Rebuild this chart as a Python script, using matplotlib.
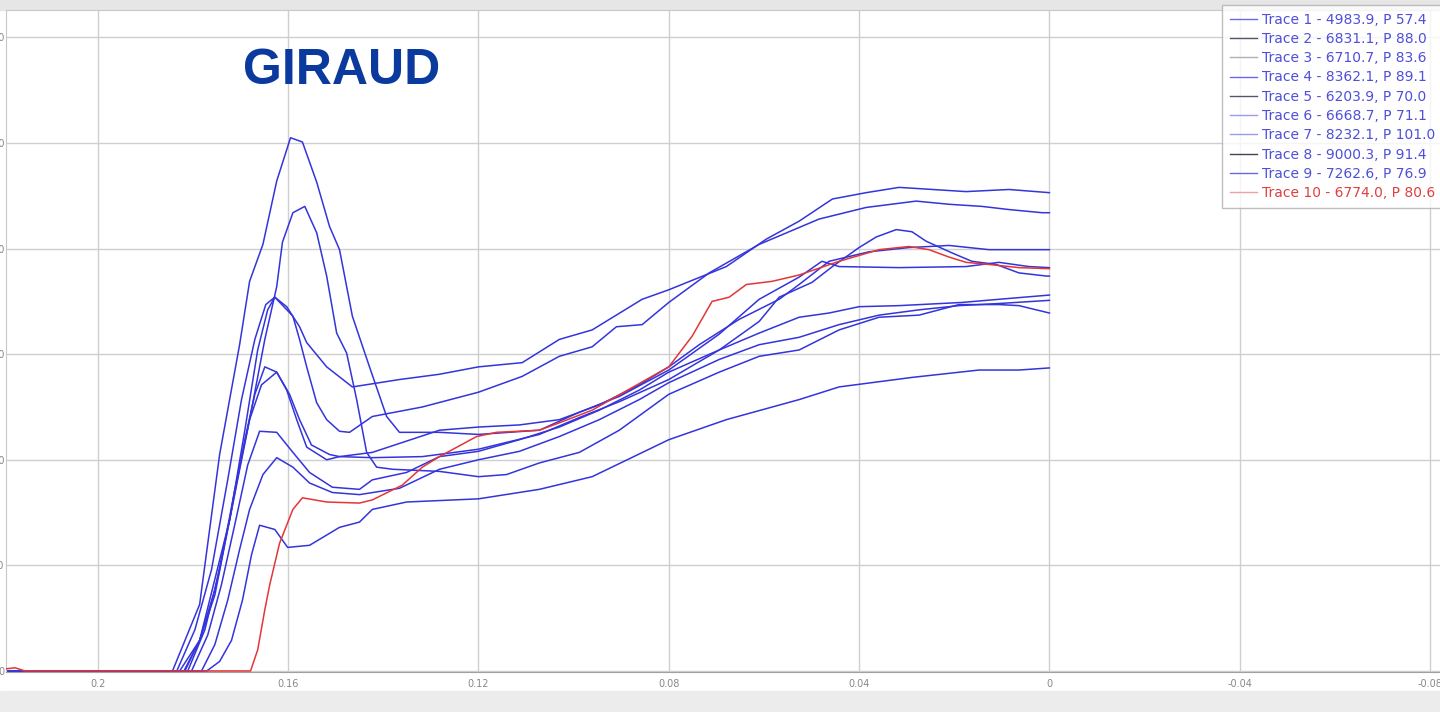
import matplotlib
matplotlib.use('Agg')
import matplotlib.pyplot as plt
from matplotlib.lines import Line2D
from matplotlib.patches import Rectangle

# traces (x = position, y = force, grid step 100)
trace1_x = [0.2193, 0.1771, 0.1744, 0.1719, 0.1696, 0.1677, 0.1660, 0.1628, 0.1601, 0.1555, 0.1492, 0.1450, 0.1423,
            0.1351, 0.12, 0.1072, 0.0961, 0.08, 0.0679, 0.0526, 0.0442, 0.0289, 0.0148, 0.0064, 0.0]
trace1_y = [0, 0, 9, 29, 67, 110, 138, 134, 117, 119, 136, 141, 153, 160, 163, 172, 184, 219, 238, 257, 269, 278,
            285, 285, 287]

trace2_x = [0.2193, 0.1803, 0.1769, 0.1740, 0.1710, 0.1685, 0.1660, 0.1624, 0.1590, 0.1555, 0.1507, 0.1450, 0.1423,
            0.1351, 0.1282, 0.12, 0.1114, 0.1030, 0.0946, 0.0862, 0.08, 0.0694, 0.0610, 0.0526, 0.0463, 0.04,
            0.0316, 0.0184, 0.0106, 0.0]
trace2_y = [0, 0, 34, 82, 143, 195, 227, 226, 207, 188, 174, 172, 181, 188, 203, 208, 219, 231, 247, 266, 283, 304,
            320, 335, 339, 345, 346, 349, 352, 356]

trace3_x = [0.2193, 0.1782, 0.1754, 0.1727, 0.1702, 0.1681, 0.1653, 0.1624, 0.1590, 0.1555, 0.1507, 0.1450, 0.1366,
            0.1282, 0.12, 0.1114, 0.1030, 0.0946, 0.0862, 0.08, 0.0694, 0.0610, 0.0526, 0.0442, 0.0358, 0.0274,
            0.0190, 0.0106, 0.0]
trace3_y = [0, 0, 25, 67, 115, 153, 186, 202, 193, 178, 169, 167, 173, 191, 200, 208, 222, 238, 257, 273, 295, 309,
            316, 328, 337, 342, 346, 348, 351]

trace4_x = [0.2193, 0.1834, 0.1796, 0.1761, 0.1727, 0.1698, 0.1670, 0.1647, 0.1628, 0.1590, 0.1576, 0.1561, 0.1540,
            0.1519, 0.1492, 0.1471, 0.1423, 0.1318, 0.12, 0.1108, 0.1030, 0.0961, 0.0910, 0.0856, 0.08, 0.0715,
            0.0610, 0.0484, 0.0385, 0.0280, 0.0211, 0.0142, 0.0085, 0.0015, 0.0]
trace4_y = [0, 0, 39, 96, 181, 257, 314, 347, 354, 336, 314, 288, 254, 238, 227, 226, 241, 250, 264, 279, 298, 307,
            326, 328, 349, 377, 404, 428, 439, 445, 442, 440, 437, 434, 434]

trace5_x = [0.2193, 0.1828, 0.1786, 0.1723, 0.1681, 0.1649, 0.1624, 0.1612, 0.1590, 0.1565, 0.1540, 0.1519, 0.1498,
            0.1477, 0.1456, 0.1435, 0.1414, 0.1380, 0.1282, 0.12, 0.1141, 0.1072, 0.0988, 0.0904, 0.08, 0.0694,
            0.0610, 0.0526, 0.0442, 0.0358, 0.0274, 0.0190, 0.0106, 0.0064, 0.0]
trace5_y = [0, 0, 29, 143, 238, 314, 364, 406, 434, 440, 415, 374, 320, 301, 257, 207, 193, 191, 189, 184, 186, 197,
            207, 228, 262, 283, 298, 304, 323, 335, 337, 347, 347, 346, 339]

trace6_x = [0.2193, 0.1811, 0.1775, 0.1744, 0.1712, 0.1681, 0.1656, 0.1624, 0.1597, 0.1576, 0.1551, 0.1513, 0.1492,
            0.1423, 0.1318, 0.12, 0.1072, 0.0988, 0.0904, 0.08, 0.0694, 0.0610, 0.0568, 0.0499, 0.0456, 0.04,
            0.0364, 0.0322, 0.0289, 0.0259, 0.0205, 0.0163, 0.0112, 0.0064, 0.0006, 0.0]
trace6_y = [0, 0, 39, 96, 172, 238, 271, 283, 262, 238, 214, 205, 203, 202, 203, 210, 224, 240, 255, 276, 304, 331,
            354, 368, 383, 401, 411, 418, 416, 407, 396, 388, 385, 377, 374, 374]

trace7_x = [0.2193, 0.1843, 0.1786, 0.1744, 0.1702, 0.1681, 0.1653, 0.1624, 0.1595, 0.1570, 0.1540, 0.1513, 0.1492,
            0.1465, 0.1429, 0.1393, 0.1366, 0.1282, 0.12, 0.1072, 0.0988, 0.0904, 0.08, 0.0694, 0.0610, 0.0526,
            0.0478, 0.0442, 0.0316, 0.0175, 0.0106, 0.0043, 0.0]
trace7_y = [0, 0, 63, 205, 309, 369, 404, 464, 505, 501, 463, 421, 399, 336, 288, 241, 226, 226, 224, 228, 245, 260,
            285, 319, 352, 373, 388, 383, 382, 383, 387, 383, 382]

trace8_x = [0.2193, 0.1819, 0.1786, 0.1754, 0.1723, 0.1691, 0.1664, 0.1643, 0.1628, 0.1603, 0.1576, 0.1561, 0.1519,
            0.1465, 0.1366, 0.1282, 0.12, 0.1108, 0.1030, 0.0961, 0.0856, 0.08, 0.0679, 0.0595, 0.0526, 0.0456,
            0.0385, 0.0316, 0.0175, 0.0085, 0.0]
trace8_y = [0, 0, 29, 77, 143, 228, 304, 342, 354, 345, 326, 311, 288, 269, 276, 281, 288, 292, 314, 323, 352, 361,
            383, 409, 426, 447, 453, 458, 454, 456, 453]

trace9_x = [0.2193, 0.1817, 0.1786, 0.1754, 0.1723, 0.1691, 0.1670, 0.1649, 0.1624, 0.1603, 0.1582, 0.1561, 0.1519,
            0.1492, 0.1423, 0.1282, 0.12, 0.1114, 0.1030, 0.0946, 0.0862, 0.08, 0.0736, 0.0652, 0.0568, 0.0526,
            0.0463, 0.0379, 0.0295, 0.0211, 0.0127, 0.0]
trace9_y = [0, 0, 29, 72, 143, 219, 262, 288, 283, 266, 238, 212, 200, 203, 207, 228, 231, 233, 238, 252, 271, 288,
            309, 333, 352, 366, 388, 397, 401, 403, 399, 399]

trace10_x = [0.2193, 0.2174, 0.2153, 0.1679, 0.1664, 0.1649, 0.1639, 0.1618, 0.1590, 0.1570, 0.1519, 0.1450, 0.1423,
             0.1360, 0.1318, 0.1282, 0.1204, 0.1162, 0.1072, 0.1030, 0.0961, 0.08, 0.0751, 0.0709, 0.0673, 0.0637,
             0.0583, 0.0526, 0.0442, 0.0358, 0.0295, 0.0253, 0.0211, 0.0175, 0.0127, 0.0064, 0.0]
trace10_y = [2, 3, 0, 0, 20, 58, 81, 121, 153, 164, 160, 159, 162, 176, 193, 203, 222, 226, 228, 235, 247, 288, 317,
             350, 354, 366, 369, 375, 388, 399, 402, 399, 392, 387, 385, 382, 381]

labels = ['Trace 1 - 4983.9, P 57.4', 'Trace 2 - 6831.1, P 88.0', 'Trace 3 - 6710.7, P 83.6',
          'Trace 4 - 8362.1, P 89.1', 'Trace 5 - 6203.9, P 70.0', 'Trace 6 - 6668.7, P 71.1',
          'Trace 7 - 8232.1, P 101.0', 'Trace 8 - 9000.3, P 91.4', 'Trace 9 - 7262.6, P 76.9',
          'Trace 10 - 6774.0, P 80.6']
legend_colors = ['#6a6ae8', '#555566', '#b0b0b8', '#6a6ae8', '#55556e', '#9a9aee', '#9a9aee', '#444450',
                 '#6a6ae0', '#f0a0a0']

xs = [trace1_x, trace2_x, trace3_x, trace4_x, trace5_x, trace6_x, trace7_x, trace8_x, trace9_x, trace10_x]
ys = [trace1_y, trace2_y, trace3_y, trace4_y, trace5_y, trace6_y, trace7_y, trace8_y, trace9_y, trace10_y]

xticks = [0.2, 0.16, 0.12, 0.08, 0.04, 0, -0.04, -0.08]
xtick_labels = ['0.2', '0.16', '0.12', '0.08', '0.04', '0', '-0.04', '-0.08']
yticks = [0, 100, 200, 300, 400, 500, 600]

W, H = 1440, 712
fig = plt.figure(figsize=(W / 100, H / 100), dpi=100)
fig.patch.set_facecolor('white')
# grey window bands above and below the plot
fig.add_artist(Rectangle((0, 1 - 10 / H), 1, 10 / H, transform=fig.transFigure, color='#e6e6e6', zorder=0))
fig.add_artist(Rectangle((0, 0), 1, 21 / H, transform=fig.transFigure, color='#ececec', zorder=0))

ax = fig.add_axes([6 / W, 40 / H, 1 - 6 / W, 662 / H])
ax.set_xlim(0.2193, -0.0821)
ax.set_ylim(-1, 626)

for i in range(10):
    c = '#e53535' if i == 9 else '#3434dc'
    ax.plot(xs[i], ys[i], color=c, lw=1.1, zorder=3 if i == 9 else 2)

ax.set_xticks(xticks)
ax.set_xticklabels(xtick_labels)
ax.set_yticks(yticks)
# y labels sit mostly outside the window, as in the screenshot
ax.set_yticklabels([str(v) for v in yticks])
ax.tick_params(length=0, labelsize=7, colors='#888888')
ax.tick_params(axis='x', pad=5)
ax.tick_params(axis='y', pad=1)
ax.grid(True, color='#cfcfcf', lw=1.0)
ax.set_axisbelow(True)
for s in ['left', 'top']:
    ax.spines[s].set_color('#c8c8c8')
ax.spines['bottom'].set_color('#a0a0a0')
ax.spines['right'].set_visible(False)

handles = [Line2D([], [], color=c, lw=1.0) for c in legend_colors]
leg = fig.legend(handles, labels, loc='upper left', bbox_to_anchor=(1222 / W, 1 - 5 / H),
                 fontsize=10, frameon=True, fancybox=False, borderaxespad=0, handlelength=1.95,
                 handletextpad=0.35, labelspacing=0.38, borderpad=0.55)
leg.get_frame().set_edgecolor('#b0b0b0')
leg.get_frame().set_linewidth(1.0)
for i, t in enumerate(leg.get_texts()):
    t.set_color('#e04040' if i == 9 else '#4f4fda')

fig.text(342 / W, 1 - 71 / H, 'GIRAUD', ha='center', va='center', fontsize=36, fontweight='bold',
         color='#0b3a9e', family='Liberation Sans', zorder=5)

fig.savefig('out.png', dpi=100)
